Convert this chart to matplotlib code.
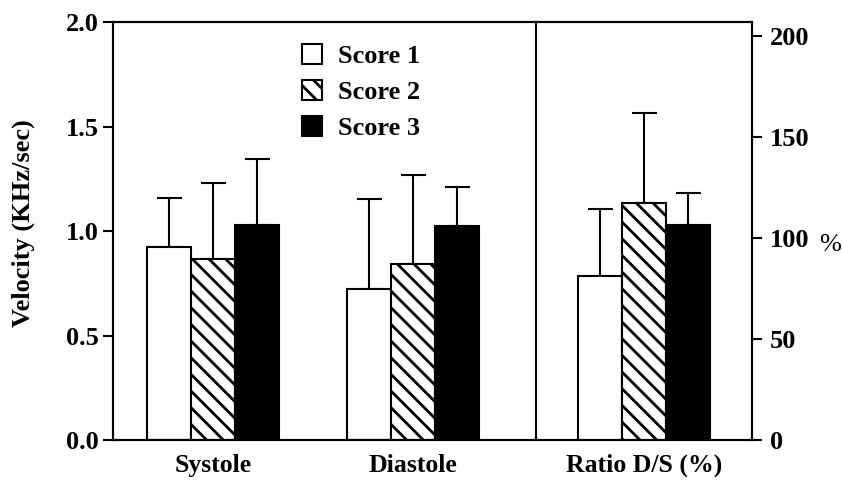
import numpy as np
import matplotlib
matplotlib.use('Agg')
import matplotlib.pyplot as plt

plt.rcParams['font.family'] = 'Liberation Serif'
plt.rcParams['font.weight'] = 'bold'
plt.rcParams['hatch.linewidth'] = 2.0

groups = ['Systole', 'Diastole', 'Ratio D/S (%)']
series = ['Score 1', 'Score 2', 'Score 3']

# velocity (KHz/sec): mean and upper error (SD)
systole = [0.925, 0.865, 1.027]
systole_err = [0.233, 0.363, 0.317]
diastole = [0.724, 0.841, 1.024]
diastole_err = [0.429, 0.427, 0.185]
# ratio D/S (%)
ratio = [81.0, 117.5, 106.6]
ratio_err = [33.4, 44.2, 15.8]

centers = [2.27, 6.82, 12.07]
width = 1.0
faces = ['white', 'white', 'black']
hatches = [None, '\\\\', None]

fig = plt.figure(figsize=(8.42, 4.84), dpi=100)
ax = fig.add_axes([0.134, 0.0909, 0.759, 0.8636])
ax2 = ax.twinx()

for i in range(3):
    xs = [centers[0] + (i - 1) * width, centers[1] + (i - 1) * width]
    vals = [systole[i], diastole[i]]
    errs = [systole_err[i], diastole_err[i]]
    ax.errorbar(xs, vals, yerr=[[0, 0], errs], fmt='none', ecolor='black',
                elinewidth=1.5, capsize=9, capthick=1.5, zorder=1)
    ax.bar(xs, vals, width, color=faces[i], edgecolor='black', hatch=hatches[i],
           linewidth=1.5, zorder=2, label=series[i])
    xr = centers[2] + (i - 1) * width
    ax2.errorbar([xr], [ratio[i]], yerr=[[0], [ratio_err[i]]], fmt='none', ecolor='black',
                 elinewidth=1.5, capsize=9, capthick=1.5, zorder=1)
    ax2.bar([xr], [ratio[i]], width, color=faces[i], edgecolor='black', hatch=hatches[i],
            linewidth=1.5, zorder=2)

ax.axvline(9.61, color='black', linewidth=1.5)
ax.set_xlim(0, 14.52)
ax.set_ylim(0, 2.0)
ax2.set_ylim(0, 207)
ax.set_yticks([0.0, 0.5, 1.0, 1.5, 2.0])
ax.set_yticklabels(['0.0', '0.5', '1.0', '1.5', '2.0'])
ax2.set_yticks([0, 50, 100, 150, 200])
ax.set_xticks(centers)
ax.set_xticklabels(groups)

ax.tick_params(axis='y', direction='out', length=7, width=1.5, labelsize=19, pad=3)
ax2.tick_params(axis='y', direction='out', length=7, width=1.5, labelsize=19, pad=6)
ax.tick_params(axis='x', length=0, labelsize=18.5, pad=10)
for a in (ax, ax2):
    for s in a.spines.values():
        s.set_linewidth(1.5)

ax.set_ylabel('Velocity (KHz/sec)', fontsize=19, fontweight='bold')
ax.yaxis.set_label_coords(-0.122, 0.52)
ax2.set_ylabel('%', fontsize=19, rotation=0, va='center', ha='center')
ax2.yaxis.set_label_coords(1.122, 0.467)

ax.legend(loc='upper left', bbox_to_anchor=(0.296, 0.947), frameon=False, fontsize=19,
          handlelength=0.77, handleheight=0.77, handletextpad=0.6, labelspacing=0.45,
          borderpad=0, borderaxespad=0)

plt.savefig('out.png', dpi=100)
